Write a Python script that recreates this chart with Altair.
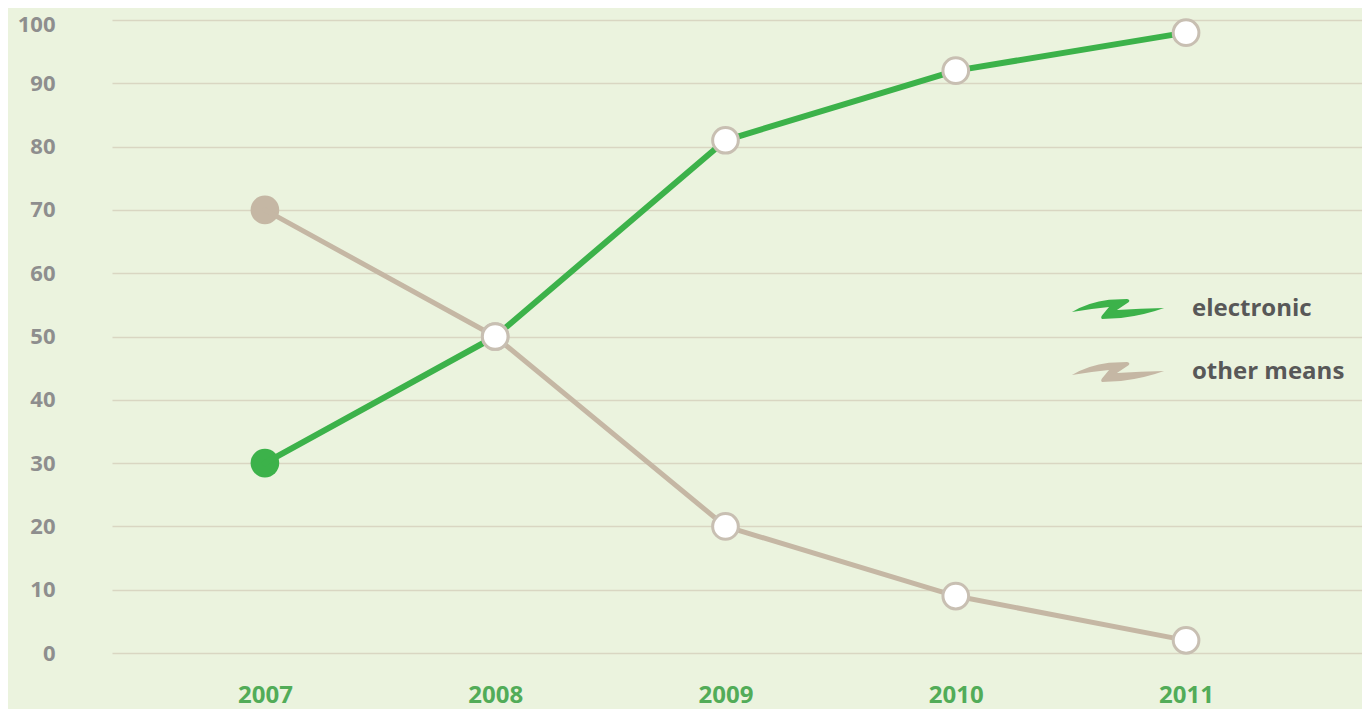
import altair as alt
import pandas as pd

years = [2007, 2008, 2009, 2010, 2011]
electronic = [30, 50, 81, 92, 98]
other_means = [70, 50, 20, 9, 2]
series_names = ["electronic", "other means"]
series_colors = ["#3cb24a", "#c5b7a4"]
y_ticks = [0, 10, 20, 30, 40, 50, 60, 70, 80, 90, 100]

rows = []
for name, vals in zip(series_names, [electronic, other_means]):
    for yr, v in zip(years, vals):
        rows.append({"year": yr, "value": v, "series": name})
df = pd.DataFrame(rows)

swoosh = ("M -3.07,0.2 Q -2,-0.45 -0.6,-0.62 L 0.6,-0.67 Q 0.85,-0.62 0.7,-0.45 "
          "L -0.07,0.07 Q 1.5,-0.05 3.07,-0.07 Q 1.8,0.4 0.2,0.6 L -1.07,0.67 "
          "Q -1.2,0.55 -1.0,0.35 L -0.6,-0.13 Q -1.9,0.0 -3.07,0.2 Z")

FONT = "Open Sans"

x_enc = alt.X("year:Q",
              scale=alt.Scale(domain=[2006.336, 2011.764], nice=False, zero=False),
              axis=alt.Axis(values=years, format="d", title=None, grid=False,
                            domain=False, ticks=False, labelPadding=30,
                            labelFont=FONT, labelFontSize=24, labelFontWeight="bold",
                            labelColor="#52ac58"))
y_enc = alt.Y("value:Q",
              scale=alt.Scale(domain=[0, 100], nice=False),
              axis=alt.Axis(values=y_ticks, title=None, grid=True, gridColor="#d9d6c2",
                            gridWidth=1.3, domain=False, ticks=False, labelPadding=57,
                            labelOffset={"expr": "datum.value == 100 ? 4 : 0"},
                            labelFont=FONT, labelFontSize=22, labelFontWeight="bold",
                            labelColor="#8e8e8e", labelAlign="right", labelBaseline="middle"))

color_scale = alt.Scale(domain=series_names, range=series_colors)

legend = alt.Legend(orient="none", legendX=991, legendY=274, title=None,
                    symbolType=swoosh, symbolSize=900, symbolStrokeWidth=0,
                    labelOffset=59, rowPadding=36,
                    labelFont=FONT, labelFontSize=24, labelFontWeight="bold",
                    labelColor="#585858")

color_enc = alt.Color("series:N", scale=color_scale, legend=legend)

base = alt.Chart(df)

first_pts = base.transform_filter(alt.datum.year == 2007).mark_point(
    filled=True, size=820, opacity=1, strokeWidth=0
).encode(x=x_enc, y=y_enc, color=color_enc)

line_e = base.transform_filter(alt.datum.series == "electronic").mark_line(
    strokeWidth=6, strokeCap="round", strokeJoin="round"
).encode(x="year:Q", y="value:Q", color=color_enc)

line_o = base.transform_filter(alt.datum.series == "other means").mark_line(
    strokeWidth=5, strokeCap="round", strokeJoin="round"
).encode(x="year:Q", y="value:Q", color=color_enc)

other_pts = base.transform_filter(alt.datum.year != 2007).mark_point(
    filled=True, size=660, fill="white", stroke="#c8bfb2", strokeWidth=3, opacity=1
).encode(x="year:Q", y="value:Q")

chart = alt.layer(first_pts, line_e, line_o, other_pts).properties(
    width=1250, height=633,
    autosize=alt.AutoSizeParams(type="none"),
    padding={"left": 104, "top": 12, "right": 0, "bottom": 56},
    background="#ebf3de",
).configure_view(stroke=None, fill="#ebf3de")

chart.save("out.html", embed_options={"renderer": "svg", "actions": False})
